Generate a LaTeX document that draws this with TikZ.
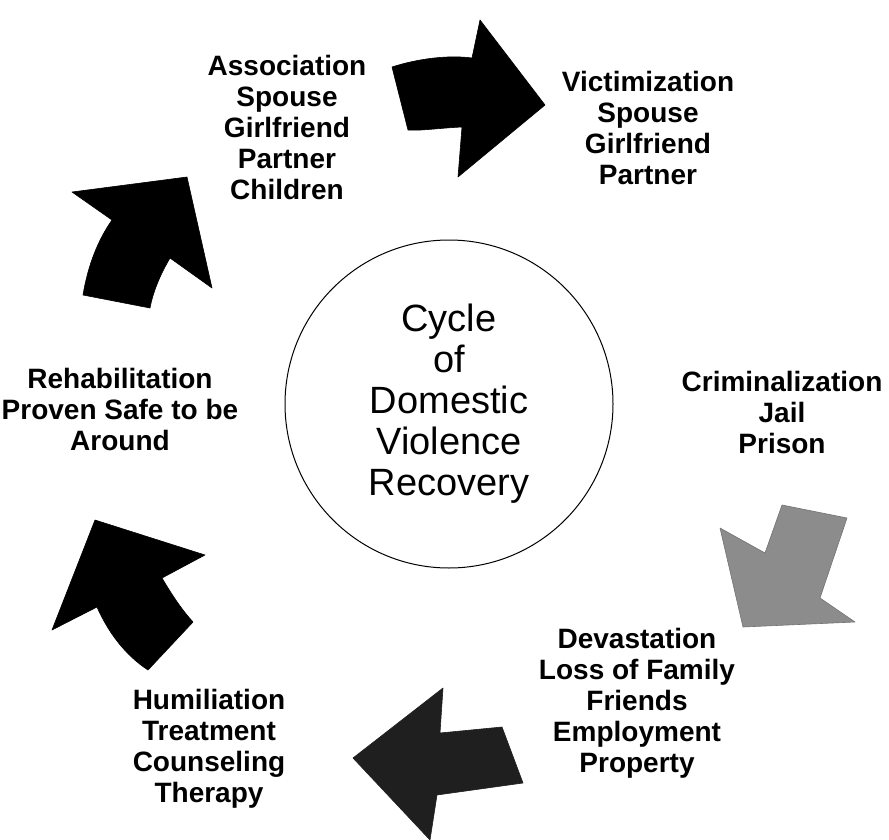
\documentclass[tikz,border=0pt]{standalone}
\usepackage{fontspec}
\setmainfont{Liberation Sans}
\begin{document}
\begin{tikzpicture}[x=1pt, y=-1pt, line join=round, line cap=round,
		stage/.style={align=center, font=\bfseries\fontsize{28}{31}\selectfont},
		fatarrow/.style={fill=black, draw=black, line width=0.6pt}]
		\useasboundingbox (0,0) rectangle (889,840);
		\node[circle, draw, line width=1pt, minimum size=328pt, align=center, font=\fontsize{38}{41}\selectfont] (cycle) at (449,404) {Cycle\\of\\Domestic\\Violence\\Recovery};
		\node[stage] (assoc) at (287,127) {Association\\Spouse\\Girlfriend\\Partner\\Children};
		\node[stage] (victim) at (648,128) {Victimization\\Spouse\\Girlfriend\\Partner};
		\node[stage] (crimin) at (782,412) {Criminalization\\Jail\\Prison};
		\node[stage] (devast) at (637,703) {Devastation\\Loss of Family\\Friends\\Employment\\Property};
		\node[stage] (humil) at (209,749) {Humiliation\\Treatment\\Counseling\\Therapy};
		\node[stage] (rehab) at (120,409) {Rehabilitation\\Proven Safe to be\\Around};
		\draw[fatarrow] (392,67) .. controls (420,58) and (450,55) .. (472,58) -- (480,20) -- (545,105) -- (458,177) -- (462,127) .. controls (440,128) and (420,131) .. (408,130) -- cycle;
		\draw[fatarrow, fill=black!45, draw=black!55] (720,528) -- (765,553) -- (782,505) -- (847,518) -- (820,598) -- (855,622) -- (743,627) -- cycle;
		\draw[fatarrow, fill=black!88, draw=black!88] (443,688) -- (440,733) -- (502,727) -- (523,783) -- (437,795) -- (430,840) -- (353,758) -- cycle;
		\draw[fatarrow] (95,520) -- (205,555) -- (162,578) .. controls (172,595) and (182,610) .. (193,622) -- (148,670) .. controls (125,655) and (108,632) .. (97,607) -- (52,630) -- cycle;
		\draw[fatarrow] (72,192) -- (187,177) -- (212,288) -- (170,258) .. controls (160,275) and (153,292) .. (150,308) -- (83,295) .. controls (88,265) and (98,240) .. (112,220) -- cycle;
\end{tikzpicture}
\end{document}
